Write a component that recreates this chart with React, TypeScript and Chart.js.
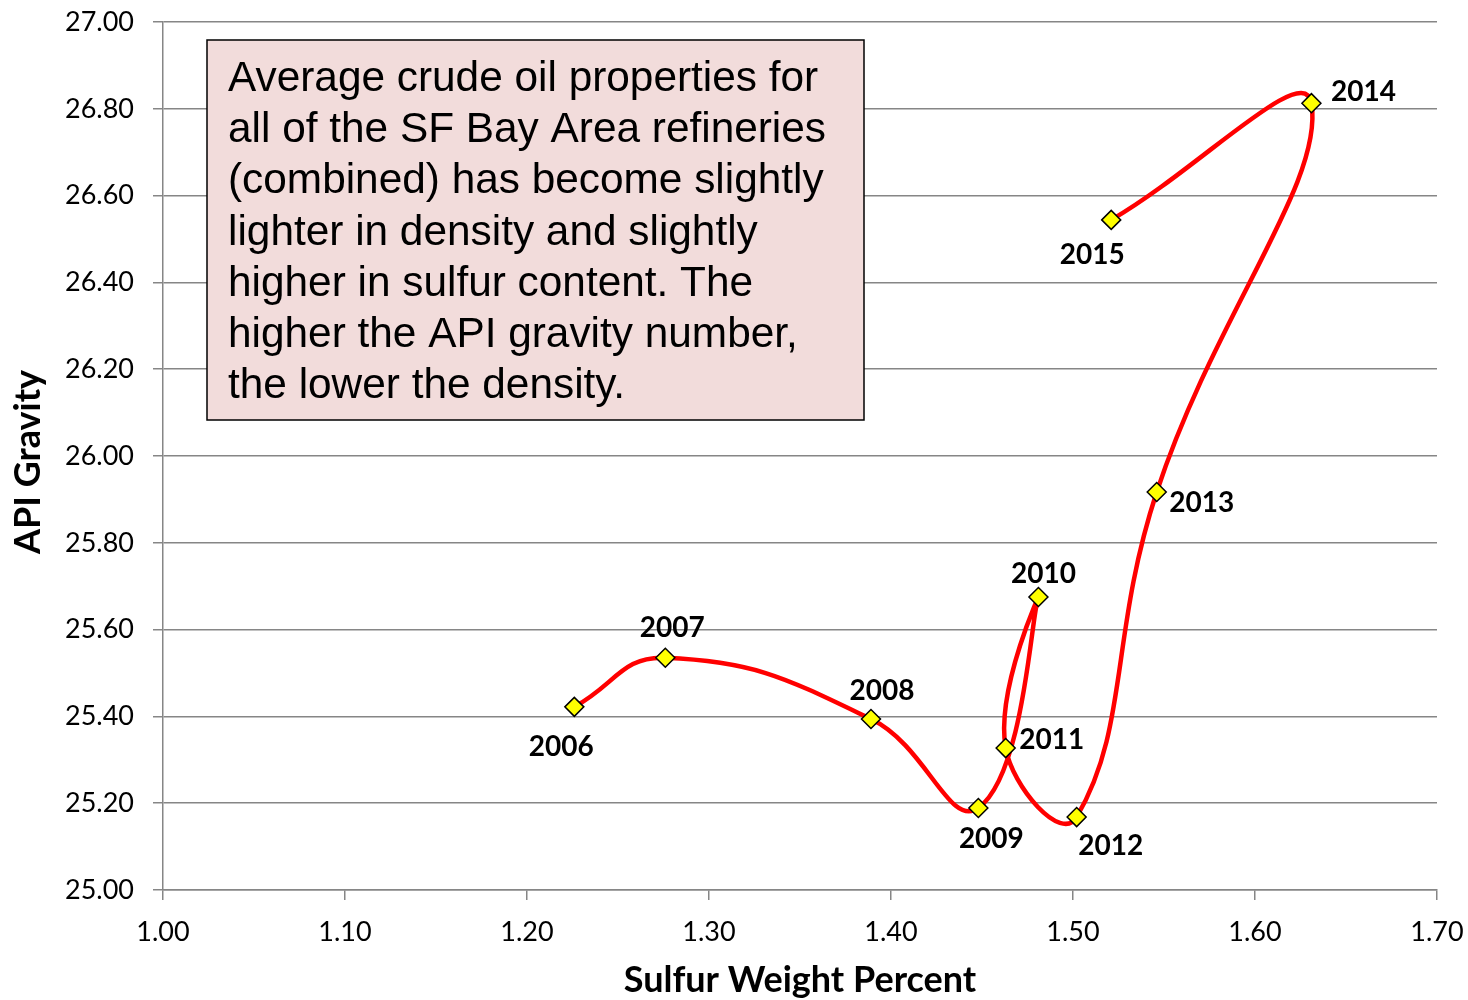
import { useEffect, useRef } from 'react';
import { Chart, registerables } from 'chart.js';

Chart.register(...registerables);

const years = ['2006', '2007', '2008', '2009', '2010', '2011', '2012', '2013', '2014', '2015'];
const sulfurWeight = [1.226, 1.276, 1.389, 1.448, 1.481, 1.463, 1.502, 1.546, 1.631, 1.521];
const apiGravity = [25.422, 25.535, 25.394, 25.189, 25.675, 25.327, 25.168, 25.917, 26.813, 26.544];

const xAxis = { min: 1.0, max: 1.7, step: 0.1, title: 'Sulfur Weight Percent' };
const yAxis = { min: 25.0, max: 27.0, step: 0.2, title: 'API Gravity' };

const noteLines = [
  'Average crude oil properties for',
  'all of the SF Bay Area refineries',
  '(combined) has become slightly',
  'lighter in density and slightly',
  'higher in sulfur content. The',
  'higher the API gravity number,',
  'the lower the density.',
];

// label placement offsets (style, px) relative to each point
const labelOffsets: [number, number][] = [
  [-13, 40], [7, -30], [11, -28], [13, 31], [5, -23],
  [46, -8], [34, 29], [45, 11], [52, -11], [-19, 35],
];

const GRID = '#868686';

const overlayPlugin = {
  id: 'overlay',
  beforeDraw(chart: any) {
    const c = chart.ctx;
    c.save();
    c.fillStyle = '#ffffff';
    c.fillRect(0, 0, chart.width, chart.height);
    c.restore();
  },
  beforeDatasetsDraw(chart: any) {
    const c = chart.ctx;
    c.save();
    // note box
    const bx = 207, by = 40, bw = 657, bh = 380;
    c.fillStyle = '#F2DCDB';
    c.fillRect(bx, by, bw, bh);
    c.strokeStyle = '#000000';
    c.lineWidth = 1.5;
    c.strokeRect(bx, by, bw, bh);
    c.font = '42px "Liberation Sans", Arial, sans-serif';
    c.fillStyle = '#000000';
    c.textBaseline = 'alphabetic';
    c.textAlign = 'left';
    let maxW = 0;
    for (const l of noteLines) maxW = Math.max(maxW, c.measureText(l).width);
    const sx = 598 / maxW;
    noteLines.forEach((l, i) => {
      c.save();
      c.translate(228, 91 + i * 51.2);
      c.scale(sx, 1);
      c.fillText(l, 0, 0);
      c.restore();
    });
    c.restore();
  },
  afterDatasetsDraw(chart: any) {
    const c = chart.ctx;
    const xs = chart.scales.x;
    const ys = chart.scales.y;
    c.save();
    c.font = 'bold 28px Lato, "Open Sans", sans-serif';
    c.fillStyle = '#000000';
    c.textAlign = 'center';
    c.textBaseline = 'middle';
    years.forEach((yr, i) => {
      const px = xs.getPixelForValue(sulfurWeight[i]);
      const py = ys.getPixelForValue(apiGravity[i]);
      const [dx, dy] = labelOffsets[i];
      c.fillText(yr, px + dx, py + dy);
    });
    // axis titles
    c.font = 'bold 36px Lato, "Open Sans", sans-serif';
    const area = chart.chartArea;
    c.fillText(xAxis.title, (area.left + area.right) / 2, 980);
    c.save();
    c.translate(28, 462);
    c.rotate(-Math.PI / 2);
    c.fillText(yAxis.title, 0, 0);
    c.restore();
    c.restore();
  },
};

const zeroPad = (s: any) => {
  s.paddingTop = 0;
  s.paddingBottom = 0;
  s.paddingLeft = 0;
  s.paddingRight = 0;
};

export default function App() {
  const ref = useRef<HTMLCanvasElement>(null);
  useEffect(() => {
    document.body.style.margin = '0';
    const canvas = ref.current!;
    const chart = new Chart(canvas, {
      type: 'scatter',
      data: {
        datasets: [
          {
            label: 'API Gravity vs Sulfur',
            data: sulfurWeight.map((x, i) => ({ x, y: apiGravity[i] })),
            showLine: true,
            tension: 0.45,
            borderColor: '#FF0000',
            borderWidth: 4.5,
            pointStyle: 'rectRot',
            pointRadius: 9.5,
            pointBackgroundColor: '#FFFF00',
            pointBorderColor: '#000000',
            pointBorderWidth: 1.5,
          },
        ],
      },
      options: {
        responsive: false,
        animation: false,
        devicePixelRatio: 1,
        layout: { padding: { left: 0, top: 22, right: 31, bottom: 0 } },
        plugins: {
          legend: { display: false },
          tooltip: { enabled: false },
          title: { display: false },
        },
        scales: {
          x: {
            type: 'linear',
            min: xAxis.min,
            max: xAxis.max,
            afterFit: (s: any) => { s.height = 110; zeroPad(s); },
            ticks: {
              stepSize: xAxis.step,
              callback: (v: any) => Number(v).toFixed(2),
              font: { family: 'Lato, "Open Sans", sans-serif', size: 27 },
              color: '#000000',
              padding: 16,
              maxRotation: 0,
            },
            grid: {
              drawOnChartArea: false,
              drawTicks: true,
              tickLength: 10,
              color: GRID,
              lineWidth: 1.5,
            },
            border: { display: true, color: GRID, width: 1.5 },
          },
          y: {
            type: 'linear',
            min: yAxis.min,
            max: yAxis.max,
            afterFit: (s: any) => { s.width = 163; zeroPad(s); },
            ticks: {
              stepSize: yAxis.step,
              callback: (v: any) => Number(v).toFixed(2),
              font: { family: 'Lato, "Open Sans", sans-serif', size: 27 },
              color: '#000000',
              padding: 19,
            },
            grid: {
              drawOnChartArea: true,
              drawTicks: true,
              tickLength: 10,
              color: GRID,
              lineWidth: 1.5,
            },
            border: { display: true, color: GRID, width: 1.5 },
          },
        },
      },
      plugins: [overlayPlugin],
    } as any);
    return () => chart.destroy();
  }, []);
  return (
    <div style={{ width: 1468, height: 1000 }}>
      <canvas ref={ref} width={1468} height={1000} style={{ display: 'block' }} />
    </div>
  );
}
